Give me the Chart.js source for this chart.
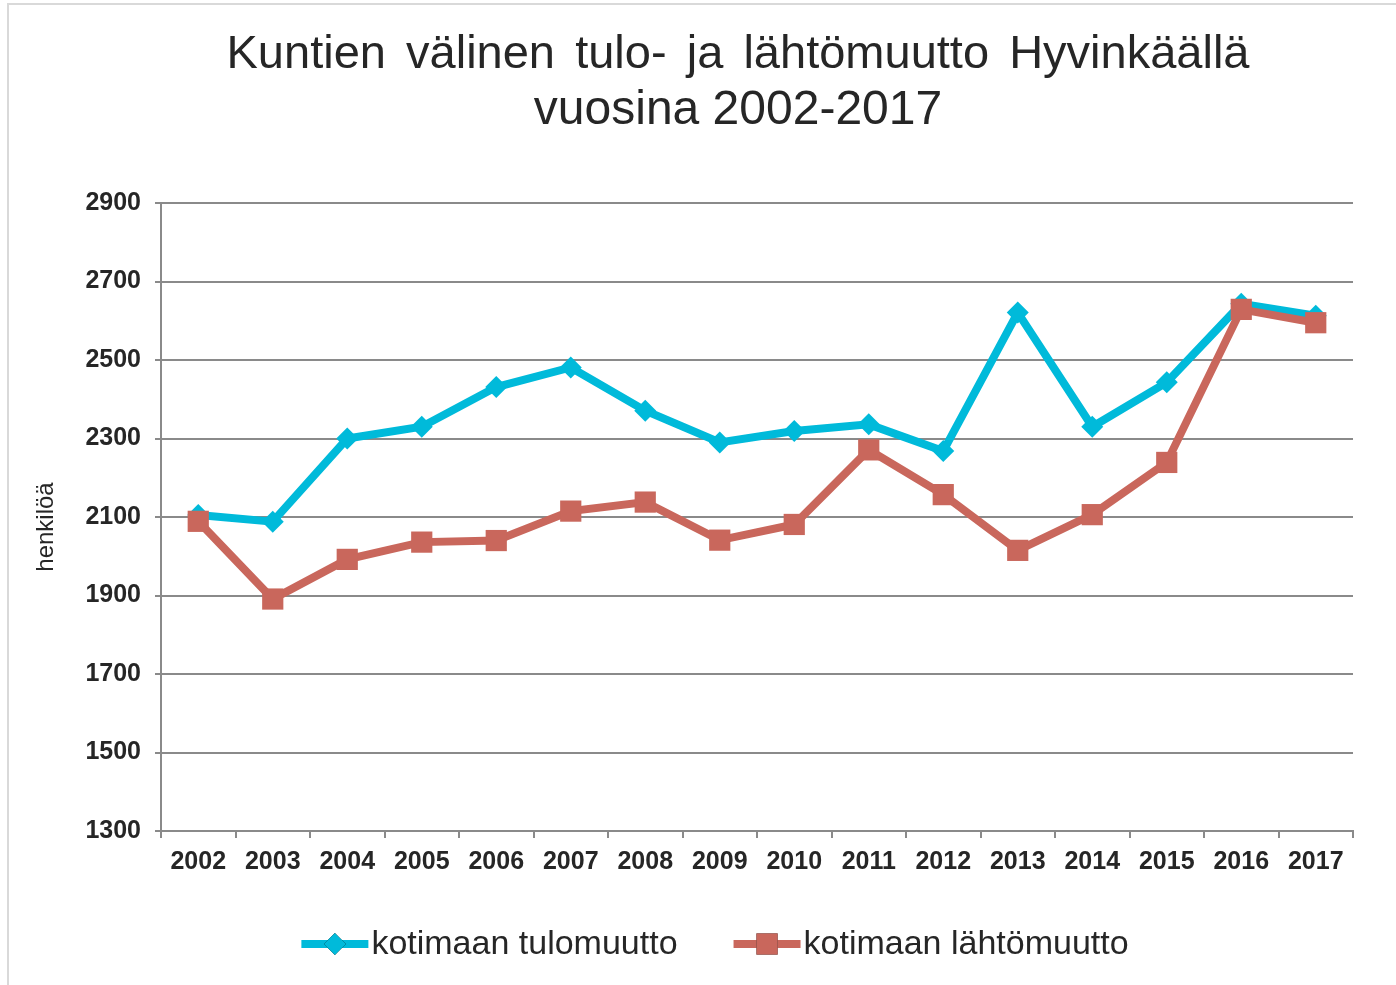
<!DOCTYPE html>
<html>
<head>
<meta charset="utf-8">
<script src="https://cdn.jsdelivr.net/npm/chart.js@4.4.1/dist/chart.umd.min.js"></script>
<style>
    html, body { margin: 0; padding: 0; background: #fff; }
    #wrap { position: relative; width: 1396px; height: 985px; }
</style>
</head>
<body>
<div id="wrap"><canvas id="lineChart" width="1396" height="985"></canvas></div>
<script>
const years = ['2002', '2003', '2004', '2005', '2006', '2007', '2008', '2009',
    '2010', '2011', '2012', '2013', '2014', '2015', '2016', '2017'];
const tulomuutto = [2105, 2088, 2300, 2330, 2431, 2481, 2371, 2290,
    2319, 2336, 2268, 2621, 2330, 2443, 2643, 2613];
const lahtomuutto = [2089, 1891, 1992, 2036, 2040, 2115, 2138, 2041,
    2081, 2271, 2157, 2015, 2106, 2239, 2629, 2595];
const yMin = 1300;
const yMax = 2900;
const yStep = 200;

const titleLines = ['Kuntien välinen tulo- ja lähtömuutto Hyvinkäällä', 'vuosina 2002-2017'];
const yAxisTitle = 'henkilöä';
const seriesNames = ['kotimaan tulomuutto', 'kotimaan lähtömuutto'];

const FONT = '"Liberation Sans", Arial, sans-serif';
const TEXT = '#262626';
const GRID = '#8a8a8a';
const BLUE = '#00bada';
const RED = '#c9675c';

Chart.defaults.font.family = FONT;
Chart.defaults.color = TEXT;

// title, y axis title, legend and the frame are drawn here
const decorations = {
    id: 'decorations',
    beforeDraw(chart) {
        const { ctx } = chart;
        ctx.save();
        ctx.fillStyle = '#d9d9d9';
        ctx.fillRect(7, 3, chart.width, 2);
        ctx.fillRect(7, 3, 2, chart.height);
        ctx.restore();
    },
    afterDraw(chart) {
        const { ctx } = chart;
        ctx.save();
        ctx.fillStyle = TEXT;
        ctx.textBaseline = 'alphabetic';

        // title line 1, words spread a little like the original
        ctx.font = `47px ${FONT}`;
        const words = titleLines[0].split(' ');
        const widths = words.map(w => ctx.measureText(w).width);
        const total = 1023;
        const gap = (total - widths.reduce((a, b) => a + b, 0)) / (words.length - 1);
        let x = 738 - total / 2;
        ctx.textAlign = 'left';
        words.forEach((w, i) => {
            ctx.fillText(w, x, 68);
            x += widths[i] + gap;
        });
        ctx.textAlign = 'center';
        ctx.font = `48px ${FONT}`;
        ctx.fillText(titleLines[1], 738, 124);

        // y axis title
        ctx.font = `24px ${FONT}`;
        ctx.translate(53, 527);
        ctx.rotate(-Math.PI / 2);
        ctx.fillText(yAxisTitle, 0, 0);
        ctx.restore();

        // legend
        ctx.save();
        ctx.font = `34px ${FONT}`;
        ctx.textBaseline = 'middle';
        ctx.textAlign = 'left';
        const lineLen = 67, textGap = 3, itemGap = 56, ly = 944;
        const items = chart.data.datasets.map((ds, i) => ({
            ds, text: seriesNames[i], w: lineLen + textGap + ctx.measureText(seriesNames[i]).width
        }));
        const fullW = items.reduce((a, it) => a + it.w, 0) + itemGap * (items.length - 1);
        let lx = 715 - fullW / 2;
        items.forEach(it => {
            ctx.strokeStyle = it.ds.borderColor;
            ctx.lineWidth = it.ds.borderWidth;
            ctx.beginPath();
            ctx.moveTo(lx, ly);
            ctx.lineTo(lx + lineLen, ly);
            ctx.stroke();
            Chart.helpers.drawPoint(ctx, {
                pointStyle: it.ds.pointStyle,
                radius: it.ds.pointRadius,
                borderWidth: 0
            }, lx + lineLen / 2, ly);
            ctx.fillStyle = it.ds.backgroundColor;
            ctx.fill();
            ctx.fillStyle = TEXT;
            ctx.fillText(it.text, lx + lineLen + textGap, ly + 1);
            lx += it.w + itemGap;
        });
        ctx.restore();
    }
};

const migrationChart = new Chart(document.getElementById('lineChart'), {
    type: 'line',
    data: {
        labels: years,
        datasets: [{
            label: seriesNames[0],
            data: tulomuutto,
            borderColor: BLUE,
            backgroundColor: BLUE,
            borderWidth: 8,
            pointStyle: 'rectRot',
            pointRadius: 11,
            pointBorderWidth: 0,
            order: 2
        }, {
            label: seriesNames[1],
            data: lahtomuutto,
            borderColor: RED,
            backgroundColor: RED,
            borderWidth: 8,
            pointStyle: 'rect',
            pointRadius: 15,
            pointBorderWidth: 0,
            order: 1
        }]
    },
    options: {
        responsive: false,
        devicePixelRatio: 1,
        animation: false,
        layout: {
            padding: { top: 203, right: 43, left: 0, bottom: 0 }
        },
        plugins: {
            legend: { display: false },
            title: { display: false },
            tooltip: { enabled: false }
        },
        scales: {
            x: {
                offset: true,
                grid: {
                    offset: true,
                    drawOnChartArea: false,
                    color: GRID,
                    lineWidth: 2,
                    tickLength: 7
                },
                border: { color: GRID, width: 2 },
                ticks: {
                    font: { size: 25, weight: 'bold' },
                    color: TEXT,
                    padding: 9,
                    maxRotation: 0
                },
                afterFit(scale) { scale.height = 154; }
            },
            y: {
                min: yMin,
                max: yMax,
                grid: {
                    color: GRID,
                    lineWidth: 2,
                    tickLength: 6
                },
                border: { color: GRID, width: 2 },
                ticks: {
                    stepSize: yStep,
                    font: { size: 25, weight: 'bold' },
                    color: TEXT,
                    padding: 14,
                    callback: value => String(value)
                },
                afterFit(scale) { scale.width = 161; }
            }
        }
    },
    plugins: [decorations]
});
</script>
</body>
</html>
